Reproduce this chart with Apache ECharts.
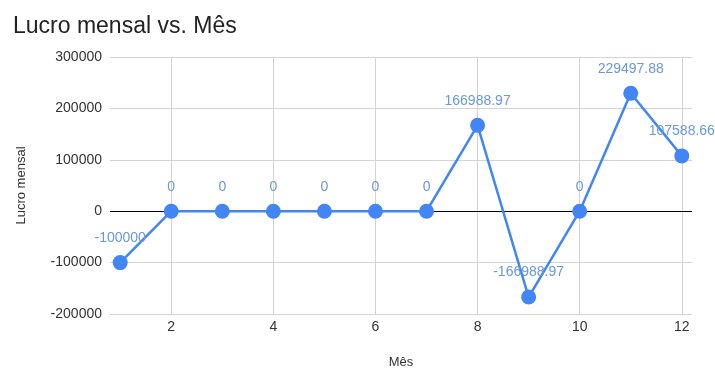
<!DOCTYPE html>
<html>
<head>
<meta charset="utf-8">
<script src="https://cdn.jsdelivr.net/npm/echarts@6/dist/echarts.min.js"></script>
<style>
  html, body { margin: 0; padding: 0; background: #fff; }
  #chart { width: 715px; height: 368px; }
</style>
</head>
<body>
<div id="chart"></div>
<script>
// Monthly profit per month (Mês 1..12)
const months = [1, 2, 3, 4, 5, 6, 7, 8, 9, 10, 11, 12];
const profit = [-100000, 0, 0, 0, 0, 0, 0, 166988.97, -166988.97, 0, 229497.88, 107588.66];
const xTicks = [2, 4, 6, 8, 10, 12];

const points = months.map((m, i) => [m, profit[i]]);

const chart = echarts.init(document.getElementById('chart'));
chart.setOption({
  animation: false,
  textStyle: { fontFamily: 'Arial, "Liberation Sans", sans-serif' },
  title: {
    text: 'Lucro mensal vs. Mês',
    left: 8,
    top: 10,
    textStyle: { fontSize: 23, fontWeight: 'normal', color: '#222' }
  },
  grid: { left: 110, right: 23, top: 57, bottom: 54, outerBoundsMode: 'none', containLabel: false },
  xAxis: {
    type: 'value',
    min: 0.8,
    max: 12.2,
    name: 'Mês',
    nameLocation: 'middle',
    nameGap: 42,
    nameTextStyle: { fontSize: 13, color: '#333' },
    axisLine: { show: false },
    axisTick: { show: false, customValues: xTicks },
    axisLabel: { customValues: xTicks, fontSize: 14, color: '#333', margin: 6 },
    splitLine: { show: true, lineStyle: { color: '#d3d3d3', width: 1 } }
  },
  yAxis: {
    type: 'value',
    min: -200000,
    max: 300000,
    interval: 100000,
    name: 'Lucro mensal',
    nameLocation: 'middle',
    nameGap: 82,
    nameTextStyle: { fontSize: 13, color: '#333' },
    axisLine: { show: false },
    axisTick: { show: false },
    axisLabel: { fontSize: 14, color: '#333', margin: 8, formatter: v => String(v) },
    splitLine: { lineStyle: { color: '#d3d3d3', width: 1 } }
  },
  series: [{
    type: 'line',
    data: points,
    symbol: 'circle',
    symbolSize: 15,
    lineStyle: { color: '#4285f4', width: 2.5 },
    itemStyle: { color: '#4285f4' },
    label: {
      show: true,
      position: 'top',
      distance: 10,
      fontSize: 14,
      color: '#6a98d9',
      formatter: p => String(p.value[1])
    },
    markLine: {
      silent: true,
      symbol: 'none',
      label: { show: false },
      lineStyle: { color: '#000', width: 1, type: 'solid' },
      data: [{ yAxis: 0 }],
      z: 1
    },
    z: 3
  }]
});
</script>
</body>
</html>
